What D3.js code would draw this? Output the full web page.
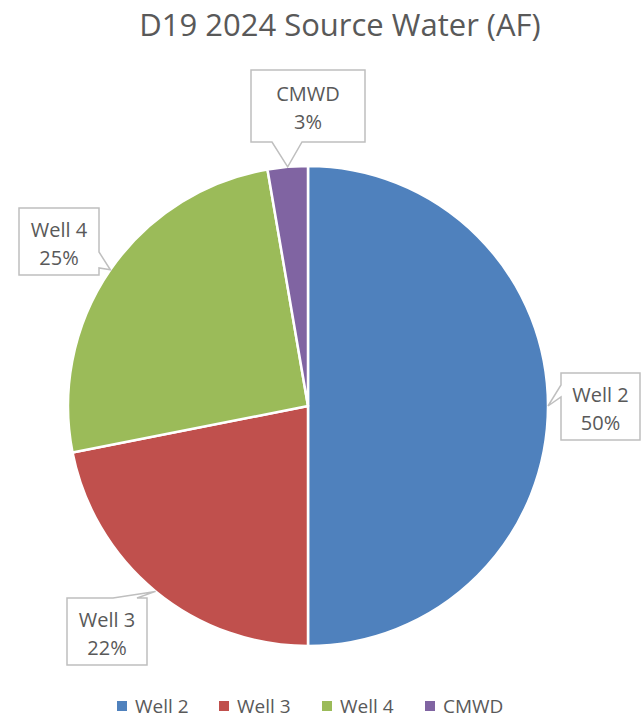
<!DOCTYPE html>
<html>
<head>
<meta charset="utf-8">
<script src="https://cdn.jsdelivr.net/npm/d3@7"></script>
<style>
  body { margin: 0; background: #fff; }
  text { font-family: "Open Sans", "Noto Sans", sans-serif; fill: #595959; }
</style>
</head>
<body>
<svg width="644" height="720"></svg>
<script>
// data (shares of total source water)
const sources = ['Well 2', 'Well 3', 'Well 4', 'CMWD'];
const values = [50.0, 21.9, 25.4, 2.7];
const colors = ['#4F81BD', '#C0504D', '#9BBB59', '#8064A2'];

const svg = d3.select('svg');

const cx = 308, cy = 406, radius = 240;

const data = sources.map((s, i) => ({ source: s, value: values[i] }));
const total = d3.sum(values);

svg.append('text')
    .attr('x', 340)
    .attr('y', 36)
    .attr('text-anchor', 'middle')
    .style('font-size', '31px')
    .text('D19 2024 Source Water (AF)');

const pie = d3.pie().sort(null).value(d => d.value);
const arc = d3.arc().innerRadius(0).outerRadius(radius);
const arcs = pie(data);

const g = svg.append('g').attr('transform', `translate(${cx},${cy})`);

g.selectAll('path')
    .data(arcs)
    .enter()
    .append('path')
    .attr('d', arc)
    .attr('fill', (d, i) => colors[i])
    .attr('stroke', '#fff')
    .attr('stroke-width', 2.5)
    .attr('stroke-linejoin', 'round');

// callout boxes (box rect in page coords) and which edge the pointer leaves from
const boxes = [
    { x: 561, y: 373, w: 79, h: 67, side: 'left', a: 12, b: 24 },
    { x: 67, y: 598, w: 80, h: 67, side: 'top', a: 46, b: 70 },
    { x: 19, y: 208, w: 80, h: 67, side: 'right', a: 44, b: 60 },
    { x: 251, y: 70, w: 114, h: 72, side: 'bottom', a: 21, b: 51 }
];

const callouts = svg.append('g');

arcs.forEach((d, i) => {
    const b = boxes[i];
    const mid = (d.startAngle + d.endAngle) / 2;
    const tx = cx + radius * Math.sin(mid);
    const ty = cy - radius * Math.cos(mid);
    const x0 = b.x, y0 = b.y, x1 = b.x + b.w, y1 = b.y + b.h;
    let pts;
    if (b.side === 'left') {
        pts = [[x0, y0], [x1, y0], [x1, y1], [x0, y1], [x0, y0 + b.b], [tx, ty], [x0, y0 + b.a]];
    } else if (b.side === 'right') {
        pts = [[x0, y0], [x1, y0], [x1, y0 + b.a], [tx, ty], [x1, y0 + b.b], [x1, y1], [x0, y1]];
    } else if (b.side === 'top') {
        pts = [[x0, y0], [x0 + b.a, y0], [tx, ty], [x0 + b.b, y0], [x1, y0], [x1, y1], [x0, y1]];
    } else {
        pts = [[x0, y0], [x1, y0], [x1, y1], [x0 + b.b, y1], [tx, ty], [x0 + b.a, y1], [x0, y1]];
    }
    callouts.append('path')
        .attr('d', d3.line()(pts) + 'Z')
        .attr('fill', '#fff')
        .attr('stroke', '#BFBFBF')
        .attr('stroke-width', 1.5);
    const t = callouts.append('text')
        .attr('x', b.x + b.w / 2)
        .attr('text-anchor', 'middle')
        .style('font-size', '20px');
    t.append('tspan')
        .attr('x', b.x + b.w / 2)
        .attr('y', b.y + b.h / 2 - 5)
        .text(d.data.source);
    t.append('tspan')
        .attr('x', b.x + b.w / 2)
        .attr('y', b.y + b.h / 2 + 23)
        .text(d3.format('.0%')(d.data.value / total));
});

// legend
const legendX = [117, 219, 322, 425];
const legend = svg.append('g')
    .selectAll('g')
    .data(sources)
    .enter()
    .append('g')
    .attr('transform', (d, i) => `translate(${legendX[i]},706)`);

legend.append('rect')
    .attr('x', 0)
    .attr('y', -5)
    .attr('width', 10)
    .attr('height', 10)
    .attr('fill', (d, i) => colors[i]);

legend.append('text')
    .attr('x', 18)
    .attr('y', 7)
    .style('font-size', '19px')
    .text(d => d);
</script>
</body>
</html>
